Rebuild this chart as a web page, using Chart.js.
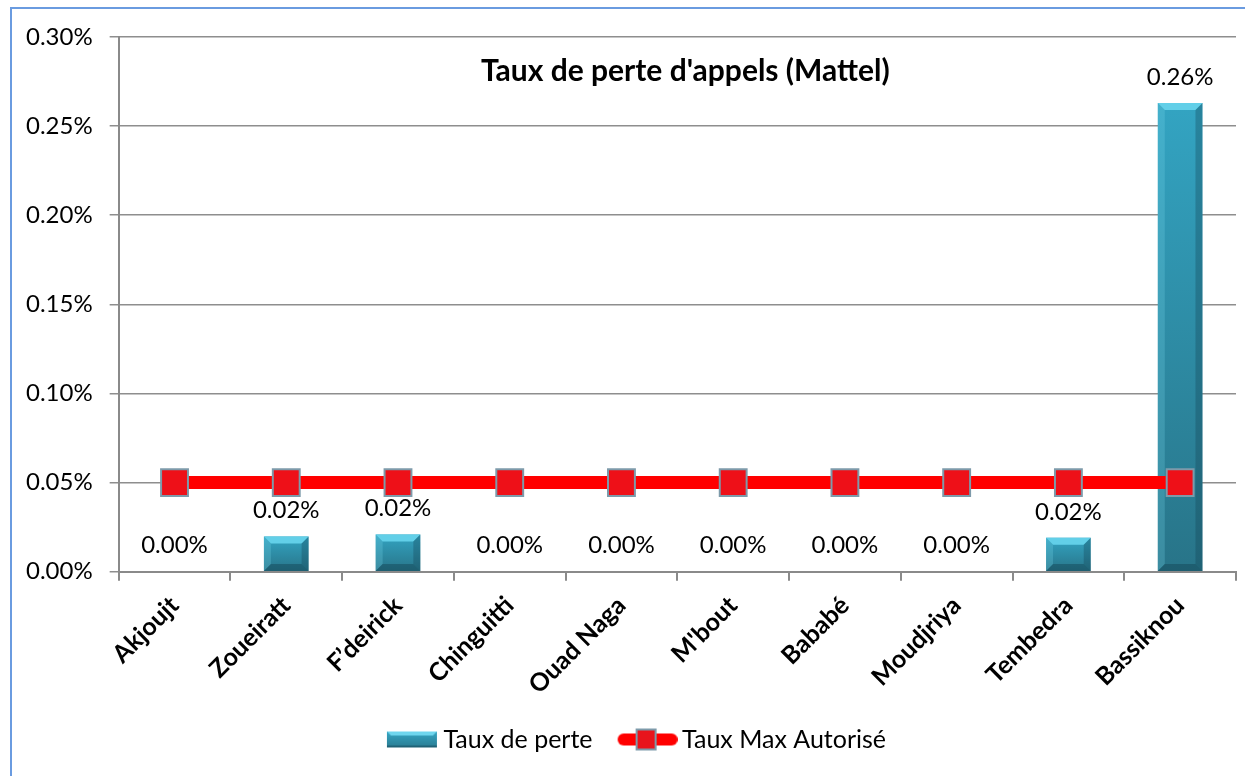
<!DOCTYPE html>
<html>
<head>
<meta charset="utf-8">
<script src="https://cdn.jsdelivr.net/npm/chart.js@4.4.1/dist/chart.umd.min.js"></script>
<style>
  html, body { margin: 0; padding: 0; background: #fff; }
  #wrap { position: relative; width: 1245px; height: 776px; overflow: hidden; }
  #cadre { position: absolute; left: 10px; top: 7px; width: 1260px; height: 800px; border: 2px solid #6a9be0; box-sizing: border-box; pointer-events: none; }
  canvas { position: absolute; left: 0; top: 0; }
</style>
</head>
<body>
<div id="wrap">
  <canvas id="graphique" width="1257" height="776"></canvas>
  <div id="cadre"></div>
</div>
<script>
// Données (valeurs en %)
const sites = ["Akjoujt", "Zoueiratt", "F’deirick", "Chinguitti", "Ouad Naga", "M'bout", "Bababé", "Moudjriya", "Tembedra", "Bassiknou"];
const tauxPerte = [0, 0.0197, 0.0208, 0, 0, 0, 0, 0, 0.019, 0.263];
const tauxMax = [0.05, 0.05, 0.05, 0.05, 0.05, 0.05, 0.05, 0.05, 0.05, 0.05];
const titre = "Taux de perte d'appels (Mattel)";
const nomsSeries = ["Taux de perte", "Taux Max Autorisé"];

const POLICE = "Lato, 'Open Sans', sans-serif";

function fmtPct(v) {
  return v.toFixed(2) + "%";
}

// petites images pour la légende
function vignetteBarre() {
  const c = document.createElement("canvas");
  c.width = 76; c.height = 20;
  const g = c.getContext("2d");
  const x = 24, y = 2, w = 50, h = 16;
  const grad = g.createLinearGradient(0, y, 0, y + h);
  grad.addColorStop(0, "#36a6c4");
  grad.addColorStop(1, "#2a7c92");
  g.fillStyle = grad;
  g.fillRect(x, y, w, h);
  g.fillStyle = "#6fd6ee";
  g.beginPath();
  g.moveTo(x, y); g.lineTo(x + w, y); g.lineTo(x + w - 4, y + 4); g.lineTo(x + 4, y + 4);
  g.closePath(); g.fill();
  g.fillStyle = "rgba(20,70,85,0.5)";
  g.fillRect(x, y + h - 2, w, 2);
  return c;
}

function vignetteLigne() {
  const c = document.createElement("canvas");
  c.width = 76; c.height = 24;
  const g = c.getContext("2d");
  g.strokeStyle = "#ff0000";
  g.lineWidth = 12;
  g.lineCap = "round";
  g.beginPath();
  g.moveTo(22, 12); g.lineTo(70, 12);
  g.stroke();
  g.fillStyle = "#e8141c";
  g.strokeStyle = "#7d9aaa";
  g.lineWidth = 2;
  g.fillRect(35, 2, 19, 20);
  g.strokeRect(35, 2, 19, 20);
  return c;
}

// dégradé vertical de chaque barre
function couleurBarre(ctx) {
  const chart = ctx.chart;
  if (!chart.chartArea || ctx.type !== "data") return "#3298b5";
  const y = chart.scales.y;
  const haut = y.getPixelForValue(ctx.raw);
  const bas = y.getPixelForValue(0);
  if (bas - haut < 1) return "#3298b5";
  const grad = chart.ctx.createLinearGradient(0, haut, 0, bas);
  grad.addColorStop(0, "#33a4c2");
  grad.addColorStop(1, "#287488");
  return grad;
}

// biseau sur les barres
const pluginBiseau = {
  id: "biseau",
  afterDatasetDraw(chart, args) {
    if (args.index !== 0) return;
    const ctx = chart.ctx;
    args.meta.data.forEach(el => {
      const h = el.base - el.y;
      if (h < 2) return;
      const l = el.x - el.width / 2, r = el.x + el.width / 2, t = el.y, b = el.base;
      const e = Math.min(7, h / 4);
      ctx.save();
      ctx.fillStyle = "#62cfe8";
      ctx.beginPath();
      ctx.moveTo(l, t); ctx.lineTo(r, t); ctx.lineTo(r - e, t + e); ctx.lineTo(l + e, t + e);
      ctx.closePath(); ctx.fill();
      ctx.fillStyle = "rgba(120,215,235,0.25)";
      ctx.beginPath();
      ctx.moveTo(l, t); ctx.lineTo(l + e, t + e); ctx.lineTo(l + e, b - e); ctx.lineTo(l, b);
      ctx.closePath(); ctx.fill();
      ctx.fillStyle = "rgba(15,60,75,0.3)";
      ctx.beginPath();
      ctx.moveTo(r, t); ctx.lineTo(r - e, t + e); ctx.lineTo(r - e, b - e); ctx.lineTo(r, b);
      ctx.closePath(); ctx.fill();
      ctx.fillStyle = "rgba(15,60,75,0.4)";
      ctx.beginPath();
      ctx.moveTo(l, b); ctx.lineTo(l + e, b - e); ctx.lineTo(r - e, b - e); ctx.lineTo(r, b);
      ctx.closePath(); ctx.fill();
      ctx.restore();
    });
  }
};

// étiquettes de valeurs + titre dans la zone de tracé
const pluginTextes = {
  id: "textes",
  afterDraw(chart) {
    const ctx = chart.ctx;
    const zone = chart.chartArea;
    ctx.save();
    ctx.fillStyle = "#000";
    ctx.textAlign = "center";
    ctx.textBaseline = "middle";
    ctx.font = "24px " + POLICE;
    chart.getDatasetMeta(0).data.forEach((el, i) => {
      ctx.fillText(fmtPct(tauxPerte[i]), el.x, el.y - 26);
    });
    ctx.font = "bold 30px " + POLICE;
    ctx.fillText(titre, (zone.left + zone.right) / 2 + 8, zone.top + 34);
    ctx.restore();
  }
};

new Chart(document.getElementById("graphique"), {
  data: {
    labels: sites,
    datasets: [
      {
        type: "bar",
        label: nomsSeries[0],
        data: tauxPerte,
        backgroundColor: couleurBarre,
        borderWidth: 0,
        barPercentage: 0.4,
        categoryPercentage: 1,
        order: 2
      },
      {
        type: "line",
        label: nomsSeries[1],
        data: tauxMax,
        borderColor: "#ff0000",
        borderWidth: 13,
        pointStyle: "rect",
        pointRadius: 19,
        pointBackgroundColor: "#ee1018",
        pointBorderColor: "#7d9aaa",
        pointBorderWidth: 2,
        tension: 0,
        order: 1
      }
    ]
  },
  options: {
    responsive: false,
    animation: false,
    devicePixelRatio: 1,
    layout: { padding: { left: 9, right: 9, top: 37, bottom: 14 } },
    plugins: {
      tooltip: { enabled: false },
      title: { display: false },
      legend: {
        position: "bottom",
        labels: {
          usePointStyle: true,
          pointStyleWidth: 60,
          padding: 17,
          color: "#000",
          font: { family: POLICE, size: 25 },
          generateLabels() {
            return [
              { text: nomsSeries[0], pointStyle: vignetteBarre(), datasetIndex: 0, fillStyle: "transparent", strokeStyle: "transparent", lineWidth: 0, fontColor: "#000" },
              { text: nomsSeries[1], pointStyle: vignetteLigne(), datasetIndex: 1, fillStyle: "transparent", strokeStyle: "transparent", lineWidth: 0, fontColor: "#000" }
            ];
          }
        }
      }
    },
    scales: {
      x: {
        grid: { drawOnChartArea: false, color: "#8a8a8a", lineWidth: 2, tickLength: 9, offset: true },
        border: { color: "#8a8a8a", width: 2 },
        ticks: {
          color: "#000",
          font: { family: POLICE, size: 25, weight: "bold" },
          minRotation: 45,
          maxRotation: 45,
          padding: 10
        }
      },
      y: {
        min: 0,
        max: 0.3,
        grid: { color: "#8e8e8e", lineWidth: 1.5, tickLength: 9 },
        border: { color: "#8a8a8a", width: 2 },
        ticks: {
          stepSize: 0.05,
          padding: 17,
          color: "#000",
          font: { family: POLICE, size: 24 },
          callback: v => fmtPct(v)
        }
      }
    }
  },
  plugins: [pluginBiseau, pluginTextes]
});
</script>
</body>
</html>
